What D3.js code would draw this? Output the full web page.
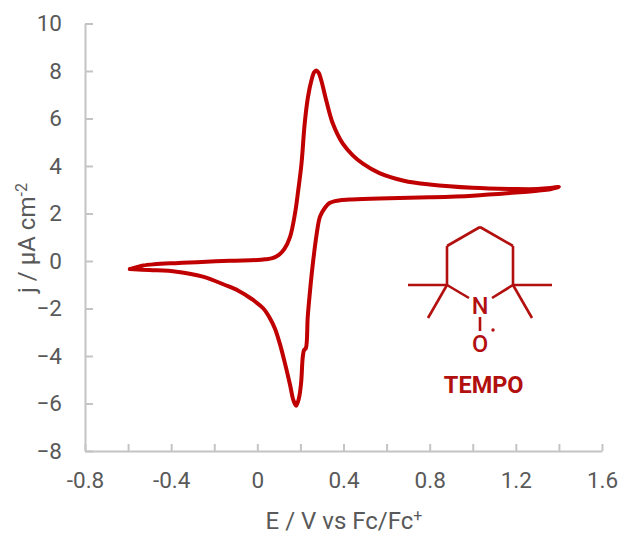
<!DOCTYPE html>
<html>
<head>
<meta charset="utf-8">
<script src="https://cdn.jsdelivr.net/npm/d3@7"></script>
<style>
  html, body { margin: 0; padding: 0; background: #fff; }
  text { font-family: Roboto, sans-serif; }
  .axis text { font-size: 22.5px; fill: #595959; }
  .axis path, .axis line { stroke: #c4c4c4; stroke-width: 2px; }
  .axis-title { font-size: 24px; fill: #595959; }
</style>
</head>
<body>
<div id="chart"></div>
<script>
const widthSVG = 622, heightSVG = 535;
const colorTrace = "#c00000", colorMolecule = "#b20f0f";

// cyclic voltammogram: out along the top, back along the bottom
const potential = [-0.592, -0.56, -0.53, -0.48, -0.38, -0.28, -0.128, 0, 0.036, 0.07, 0.1, 0.125, 0.152, 0.175, 0.19, 0.205, 0.22, 0.235, 0.251, 0.264, 0.274, 0.285, 0.297, 0.32, 0.35, 0.396, 0.443, 0.49, 0.567, 0.68, 0.8, 1.0, 1.2, 1.3, 1.36, 1.4,
                   1.36, 1.3, 1.2, 1.0, 0.8, 0.567, 0.44, 0.385, 0.36, 0.335, 0.314, 0.291, 0.276, 0.257, 0.245, 0.234, 0.225, 0.217, 0.211, 0.203, 0.193, 0.18, 0.167, 0.152, 0.128, 0.105, 0.082, 0.059, 0.028, -0.026, -0.088, -0.15, -0.253, -0.375, -0.5, -0.592];
const current = [-0.34, -0.26, -0.19, -0.14, -0.09, -0.05, 0.01, 0.04, 0.07, 0.12, 0.26, 0.5, 1.02, 2.01, 2.99, 4.1, 5.8, 6.9, 7.6, 7.95, 8.02, 7.92, 7.6, 6.76, 5.8, 4.95, 4.45, 4.1, 3.7, 3.38, 3.22, 3.08, 3.03, 3.03, 3.07, 3.12,
                 3.02, 2.96, 2.88, 2.75, 2.68, 2.63, 2.59, 2.56, 2.52, 2.44, 2.24, 1.87, 1.17, -0.17, -1.22, -2.35, -3.68, -3.75, -4.03, -5.15, -5.78, -6.09, -5.85, -5.22, -4.3, -3.5, -2.85, -2.42, -2.0, -1.6, -1.25, -1.01, -0.66, -0.45, -0.38, -0.34];

const xTicks = [-0.8, -0.6, -0.4, -0.2, 0, 0.2, 0.4, 0.6, 0.8, 1.0, 1.2, 1.4, 1.6];
const xLabels = ["-0.8", "", "-0.4", "", "0", "", "0.4", "", "0.8", "", "1.2", "", "1.6"];
const yTicks = [-8, -6, -4, -2, 0, 2, 4, 6, 8, 10];

// TEMPO skeleton, in px relative to the nitrogen
const bonds = [[-33, -20, -33, -59], [-33, -59, 0, -78], [0, -78, 33, -59], [33, -59, 33, -20],
               [-33, -20, -72, -20], [-33, -20, -52, 13], [33, -20, 72, -20], [33, -20, 52, 13],
               [-33, -20, -11, -7], [33, -20, 12, -7], [0, 12, 0, 26]];

let svg = d3.select("#chart")
            .append("svg")
            .attr("width", widthSVG)
            .attr("height", heightSVG)
            .style("display", "block");

let x = d3.scaleLinear().domain([-0.8, 1.6]).range([85, 602]);
let y = d3.scaleLinear().domain([-8, 10]).range([451, 23.5]);

let xAxis = d3.axisBottom(x)
              .tickValues(xTicks)
              .tickSizeInner(-7)
              .tickSizeOuter(0)
              .tickPadding(21)
              .tickFormat((d, i) => xLabels[i]);

let yAxis = d3.axisLeft(y)
              .tickValues(yTicks)
              .tickSizeInner(-8)
              .tickSizeOuter(0)
              .tickPadding(23)
              .tickFormat(d3.format("d"));

svg.append("g").attr("class", "axis")
   .attr("transform", "translate(0," + y(-8) + ")")
   .call(xAxis);

svg.append("g").attr("class", "axis")
   .attr("transform", "translate(" + x(-0.8) + ",0)")
   .call(yAxis);

// axis titles
let xTitle = svg.append("text")
   .attr("class", "axis-title")
   .attr("x", 344)
   .attr("y", 529)
   .attr("text-anchor", "middle");
xTitle.append("tspan").text("E / V vs Fc/Fc");
xTitle.append("tspan").attr("dy", -8).style("font-size", "16px").text("+");

let yTitle = svg.append("text")
   .attr("class", "axis-title")
   .attr("transform", "translate(35,238) rotate(-90)")
   .attr("text-anchor", "middle");
yTitle.append("tspan").text("j / µA cm");
yTitle.append("tspan").attr("dy", -8).style("font-size", "16px").text("-2");

// trace
let trace = d3.line()
              .x(i => x(potential[i]))
              .y(i => y(current[i]))
              .curve(d3.curveCatmullRom.alpha(0.5));

svg.append("path")
   .attr("d", trace(d3.range(potential.length)))
   .attr("fill", "none")
   .attr("stroke", colorTrace)
   .attr("stroke-width", 4)
   .attr("stroke-linejoin", "round")
   .attr("stroke-linecap", "round");

// molecule
let molecule = svg.append("g").attr("transform", "translate(480,305)");

molecule.selectAll("line")
        .data(bonds)
        .enter()
        .append("line")
        .attr("x1", d => d[0])
        .attr("y1", d => d[1])
        .attr("x2", d => d[2])
        .attr("y2", d => d[3])
        .attr("stroke", colorMolecule)
        .attr("stroke-width", 2.6);

molecule.append("text").attr("x", 0).attr("y", 9).attr("text-anchor", "middle")
        .style("font-size", "23.5px").style("font-weight", 500).attr("fill", colorMolecule).text("N");
molecule.append("text").attr("x", 0).attr("y", 47).attr("text-anchor", "middle")
        .style("font-size", "23.5px").style("font-weight", 500).attr("fill", colorMolecule).text("O");
molecule.append("circle").attr("cx", 13).attr("cy", 25).attr("r", 1.7).attr("fill", colorMolecule);
molecule.append("text").attr("x", 3.7).attr("y", 87.7).attr("text-anchor", "middle")
        .style("font-size", "23.5px").style("font-weight", 700).attr("fill", colorMolecule).text("TEMPO");
</script>
</body>
</html>
